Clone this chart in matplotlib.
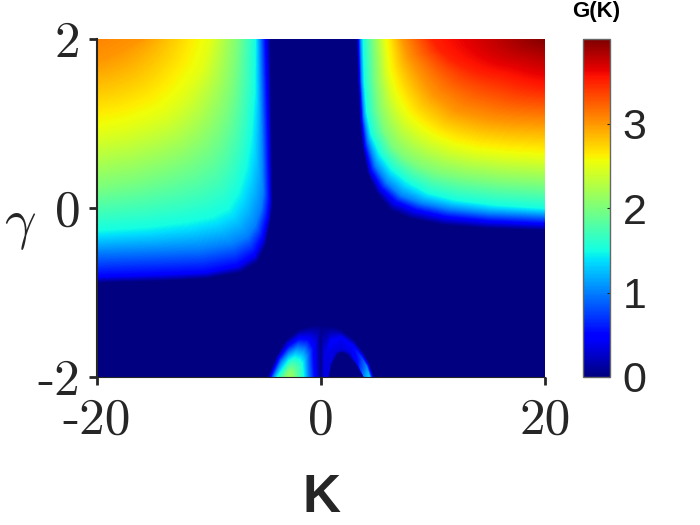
import matplotlib
matplotlib.use('Agg')
import matplotlib.pyplot as plt
import numpy as np
from matplotlib.cm import ScalarMappable
from matplotlib.colors import Normalize

# values: each row is one iso-line of G, walked in the same order
left_levels = [0.0, 0.5, 1.0, 1.5, 2.0, 2.5, 3.0, 3.08]
left_k = [
    [-4.55, -4.45, -4.37, -4.55, -4.97, -5.7, -7.2, -10.2, -14, -20],
    [-5.0, -4.8, -4.65, -4.8, -5.25, -6.0, -7.5, -10.4, -14, -20],
    [-5.45, -5.3, -5.2, -5.4, -5.9, -6.6, -8, -10.8, -14.5, -20],
    [-5.9, -5.95, -6.3, -6.7, -7.4, -8.3, -9.8, -12, -15.5, -20],
    [-7.5, -7.7, -8.0, -8.5, -9.3, -10.3, -11.8, -13.8, -16.5, -20],
    [-9.9, -10.2, -10.7, -11.4, -12.2, -13, -14, -15.5, -17.5, -20],
    [-16, -16.4, -16.8, -17.2, -17.6, -18, -18.4, -18.9, -19.4, -20],
    [-20] * 10,
]
left_gamma = [
    [2, 1, 0.03, -0.16, -0.44, -0.64, -0.76, -0.83, -0.86, -0.88],
    [2, 1, 0.1, -0.08, -0.34, -0.54, -0.67, -0.75, -0.77, -0.8],
    [2, 1, 0.2, 0.0, -0.2, -0.33, -0.42, -0.48, -0.5, -0.52],
    [2, 1.4, 0.84, 0.5, 0.2, 0, -0.1, -0.16, -0.22, -0.26],
    [2, 1.7, 1.4, 1.15, 0.9, 0.72, 0.56, 0.44, 0.33, 0.25],
    [2, 1.85, 1.65, 1.51, 1.36, 1.25, 1.13, 1.04, 0.95, 0.89],
    [2, 1.97, 1.94, 1.91, 1.88, 1.85, 1.83, 1.80, 1.77, 1.75],
    [2] * 10,
]

right_levels = [0.0, 0.5, 1.0, 1.5, 2.0, 2.5, 3.0, 3.5, 3.98]
right_k = [
    [3.2, 3.35, 3.5, 3.75, 4.2, 5.0, 6.2, 8, 11, 15, 20],
    [3.4, 3.5, 3.7, 3.95, 4.5, 5.4, 6.7, 8.5, 11.2, 15, 20],
    [3.55, 3.65, 3.85, 4.2, 4.9, 5.9, 7.2, 9, 11.5, 15, 20],
    [3.8, 3.9, 4.1, 4.5, 5.3, 6.3, 7.7, 9.6, 12, 15.5, 20],
    [4.7, 4.9, 5.2, 5.7, 6.5, 7.5, 8.8, 10.5, 12.8, 16, 20],
    [5.7, 6, 6.5, 7, 7.7, 8.8, 10, 11.8, 13.8, 16.5, 20],
    [7.3, 7.8, 8.5, 9.2, 10, 11, 12, 13.5, 15, 17, 20],
    [10, 10.6, 11.8, 12.8, 13.8, 14.8, 16, 17, 18, 19, 20],
    [20] * 11,
]
right_gamma = [
    [2, 1.5, 1.04, 0.72, 0.41, 0.18, -0.02, -0.12, -0.2, -0.24, -0.26],
    [2, 1.5, 1.04, 0.74, 0.45, 0.24, 0.08, -0.02, -0.1, -0.15, -0.18],
    [2, 1.5, 1.08, 0.8, 0.5, 0.3, 0.15, 0.06, -0.01, -0.06, -0.09],
    [2, 1.5, 1.15, 0.88, 0.65, 0.47, 0.32, 0.18, 0.1, 0.04, 0],
    [2, 1.5, 1.15, 0.92, 0.72, 0.6, 0.5, 0.42, 0.36, 0.31, 0.28],
    [2, 1.6, 1.35, 1.2, 1.05, 0.92, 0.82, 0.72, 0.66, 0.62, 0.59],
    [2, 1.8, 1.65, 1.5, 1.35, 1.25, 1.15, 1.1, 1.05, 1.02, 1.0],
    [2, 1.88, 1.75, 1.68, 1.62, 1.58, 1.55, 1.51, 1.47, 1.44, 1.42],
    [2] * 11,
]

arch_levels = [0.0, 0.5, 1.0, 1.5, 2.0, 2.15]
arch_k = [
    [-4.7, -3.96, -3.06, -1.88, -0.9, 0, 0, 0],
    [-4.45, -3.7, -2.9, -1.9, -1.2, -0.75, -0.7, -0.6],
    [-4.2, -3.5, -2.85, -2.1, -1.5, -1.25, -1.2, -1.15],
    [-3.85, -3.3, -2.9, -2.4, -1.95, -1.7, -1.65, -1.6],
    [-3.15, -3.05, -2.9, -2.75, -2.6, -2.5, -2.45, -2.4],
    [-2.8] * 8,
]
arch_gamma = [
    [-2, -1.76, -1.56, -1.44, -1.4, -1.385, -1.7, -2],
    [-2, -1.78, -1.64, -1.55, -1.56, -1.65, -1.8, -2],
    [-2, -1.82, -1.72, -1.66, -1.68, -1.75, -1.87, -2],
    [-2, -1.9, -1.82, -1.78, -1.8, -1.85, -1.92, -2],
    [-2, -1.97, -1.94, -1.92, -1.94, -1.96, -1.98, -2],
    [-2] * 8,
]

band_k = [
    [0, 0, 0.9, 1.7, 2.9, 3.78, 4.3, 4.67],
    [0.3, 0.35, 0.9, 1.75, 2.8, 3.6, 4.05, 4.3],
    [0.6, 0.75, 1.25, 1.85, 2.6, 3.3, 3.6, 3.9],
    [0.65, 0.95, 1.46, 1.85, 2.44, 3.19, 3.5, 3.84],
]
band_gamma = [
    [-2, -1.385, -1.4, -1.44, -1.56, -1.72, -1.85, -2],
    [-2, -1.75, -1.58, -1.53, -1.63, -1.77, -1.88, -2],
    [-2, -1.85, -1.7, -1.67, -1.7, -1.84, -1.92, -2],
    [-2, -1.84, -1.73, -1.70, -1.74, -1.86, -1.93, -2],
]
band_g = [
    [0, 0, 0, 0, 0, 0, 0, 0],
    [0.35, 0.35, 0.45, 0.42, 0.45, 0.7, 1.0, 1.3],
    [0.35, 0.35, 0.32, 0.32, 0.35, 0.5, 0.75, 1.05],
    [0, 0, 0, 0, 0, 0, 0, 0],
]

x_ticks = [-20, 0, 20]
y_ticks = [-2, 0, 2]
bar_ticks = [0, 1, 2, 3]
g_max = 4.0

plt.rcParams['axes.formatter.use_mathtext'] = False
plt.rcParams['mathtext.fontset'] = 'cm'
DARK = '#262626'


def level_table(levels, k):
    """One G value per iso-line, repeated along that line."""
    return np.tile(np.array(levels)[:, None], (1, len(k[0])))


fig = plt.figure(figsize=(7, 5.25), dpi=100)
ax = fig.add_axes([97 / 700, 1 - 377 / 525, 448 / 700, 338 / 525])
ax.set_facecolor('#000080')

fill_levels = np.linspace(0, g_max, 257)
lobes = [
    (left_k, left_gamma, level_table(left_levels, left_k)),
    (right_k, right_gamma, level_table(right_levels, right_k)),
    (arch_k, arch_gamma, level_table(arch_levels, arch_k)),
    (band_k, band_gamma, band_g),
]
for k, gamma, g in lobes:
    ax.contourf(np.array(k, float), np.array(gamma, float), np.array(g, float),
                levels=fill_levels, cmap='jet', vmin=0, vmax=g_max)

ax.set_xlim(-20, 20)
ax.set_ylim(-2, 2)
ax.spines['top'].set_visible(False)
ax.spines['right'].set_visible(False)
ax.spines['left'].set_color(DARK)
ax.spines['left'].set_linewidth(1.5)
ax.spines['bottom'].set_color(DARK)
ax.set_xticks(x_ticks)
ax.set_yticks(y_ticks)
ax.set_xticklabels([str(v) for v in x_ticks], family='cmr10', fontsize=37, color=DARK)
ax.set_yticklabels([str(v) for v in y_ticks], family='cmr10', fontsize=37, color=DARK)
ax.tick_params(axis='y', direction='out', length=6, width=2, color=DARK, pad=6)
ax.tick_params(axis='x', direction='out', length=6, width=2, color=DARK, pad=9)

ax.set_xlabel('K', family='Liberation Sans', fontweight='bold', fontsize=38,
              color=DARK, labelpad=21)
fig.text(20 / 700, 1 - 225 / 525, r'$\gamma$', fontsize=40, color=DARK,
         ha='center', va='center')

cax = fig.add_axes([583 / 700, 1 - 377 / 525, 27 / 700, 338 / 525])
sm = ScalarMappable(norm=Normalize(0, g_max), cmap='jet')
cb = fig.colorbar(sm, cax=cax)
cb.set_ticks(bar_ticks)
cb.ax.set_yticklabels([str(v) for v in bar_ticks], family='Liberation Sans',
                      fontsize=31, color=DARK)
cb.ax.tick_params(direction='in', length=2, width=0.8, color=DARK, pad=9)
cb.outline.set_edgecolor('#666666')
cb.outline.set_linewidth(1)
fig.text(596 / 700, 1 - 11.5 / 525, 'G(K)', family='Liberation Sans', fontweight='bold',
         fontsize=16, color='black', ha='center', va='center')

fig.savefig('out.png', dpi=100)
